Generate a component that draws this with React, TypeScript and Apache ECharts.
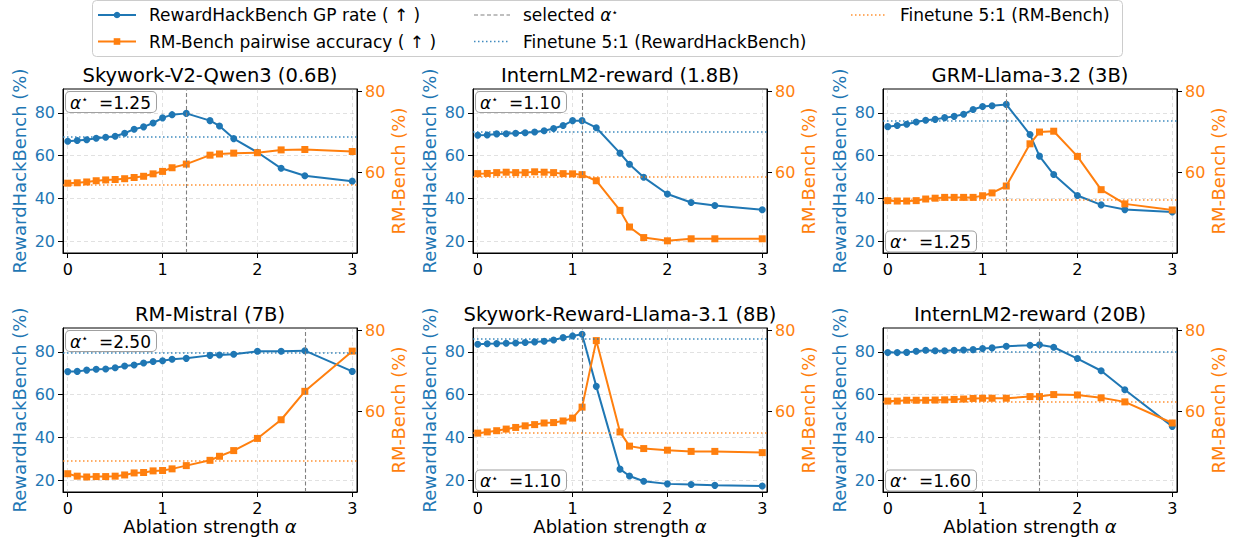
import React, { useEffect, useRef } from "react";
import * as echarts from "echarts";

// ---------------- data ----------------
const ALPHAS = [0, 0.1, 0.2, 0.3, 0.4, 0.5, 0.6, 0.7, 0.8, 0.9, 1.0, 1.1, 1.25, 1.5, 1.6, 1.75, 2.0, 2.25, 2.5, 3.0];

const MODELS = [
  "Skywork-V2-Qwen3 (0.6B)",
  "InternLM2-reward (1.8B)",
  "GRM-Llama-3.2 (3B)",
  "RM-Mistral (7B)",
  "Skywork-Reward-Llama-3.1 (8B)",
  "InternLM2-reward (20B)",
];

const RHB_QWEN06 = [66.8, 67.1, 67.5, 68.2, 68.6, 69.1, 70.5, 72.4, 73.5, 75.3, 77.7, 79.2, 79.8, 76.4, 73.9, 68.0, 61.6, 54.1, 50.6, 48.1];
const RMB_QWEN06 = [57.4, 57.5, 57.7, 58.0, 58.2, 58.3, 58.5, 58.8, 59.1, 59.7, 60.3, 61.2, 62.1, 64.3, 64.6, 64.8, 64.9, 65.6, 65.7, 65.2];

const RHB_INTERN18 = [69.6, 69.7, 70.2, 70.3, 70.5, 70.7, 71.1, 71.7, 72.7, 74.1, 76.4, 76.4, 73.1, 61.2, 56.0, 49.9, 42.1, 38.1, 36.7, 34.7];
const RMB_INTERN18 = [59.75, 59.8, 60.0, 60.1, 60.0, 60.0, 60.2, 60.1, 60.0, 59.75, 59.7, 59.5, 58.0, 50.7, 46.6, 44.0, 43.2, 43.7, 43.7, 43.7];

const RHB_GRM3 = [73.6, 74.1, 74.7, 75.8, 76.6, 77.0, 77.8, 78.4, 79.4, 81.6, 83.0, 83.4, 84.0, 69.9, 59.8, 51.2, 41.4, 37.0, 34.8, 33.7];
const RMB_GRM3 = [53.1, 53.0, 53.0, 53.1, 53.5, 53.7, 53.9, 53.9, 53.9, 53.9, 54.3, 55.0, 56.7, 67.1, 70.0, 70.2, 64.0, 55.8, 52.3, 50.8];

const RHB_MISTRAL7 = [70.8, 70.9, 71.5, 71.9, 72.0, 72.6, 73.4, 73.9, 74.8, 75.5, 75.9, 76.6, 77.0, 78.4, 78.6, 78.9, 80.3, 80.3, 80.6, 70.9];
const RMB_MISTRAL7 = [44.7, 44.1, 43.9, 44.0, 44.0, 44.1, 44.4, 44.9, 45.0, 45.4, 45.5, 45.9, 46.7, 48.0, 49.0, 50.4, 53.4, 58.0, 65.0, 74.9];

const RHB_SKYLLAMA8 = [83.6, 83.8, 83.9, 84.1, 84.2, 84.4, 84.7, 85.0, 85.6, 86.7, 87.5, 88.3, 63.9, 25.2, 22.0, 19.5, 18.3, 18.0, 17.6, 17.3];
const RMB_SKYLLAMA8 = [54.7, 55.0, 55.3, 55.7, 56.1, 56.5, 56.8, 57.2, 57.3, 57.7, 58.4, 61.1, 77.5, 55.0, 51.5, 50.9, 50.5, 50.2, 50.2, 49.9];

const RHB_INTERN20 = [79.7, 79.7, 79.8, 80.3, 80.8, 80.6, 80.6, 80.8, 80.9, 81.1, 81.6, 81.9, 82.7, 83.1, 83.4, 82.2, 76.9, 71.2, 62.3, 45.2];
const RMB_INTERN20 = [62.6, 62.6, 62.8, 62.8, 62.8, 62.85, 62.9, 63.0, 63.1, 63.25, 63.3, 63.3, 63.3, 63.7, 63.7, 64.2, 64.1, 63.4, 62.4, 57.2];

const RHB_ALL = [RHB_QWEN06, RHB_INTERN18, RHB_GRM3, RHB_MISTRAL7, RHB_SKYLLAMA8, RHB_INTERN20];
const RMB_ALL = [RMB_QWEN06, RMB_INTERN18, RMB_GRM3, RMB_MISTRAL7, RMB_SKYLLAMA8, RMB_INTERN20];

const SELECTED_ALPHA = [1.25, 1.1, 1.25, 2.5, 1.1, 1.6];
const SELECTED_LABEL = ["1.25", "1.10", "1.25", "2.50", "1.10", "1.60"];
const FT_RHB = [69.1, 71.1, 76.4, 79.7, 86.3, 80.3];
const FT_RMB = [57.0, 59.0, 53.2, 48.0, 54.8, 62.5];
const BOX_AT_TOP = [true, true, false, true, false, false];

const X_TICKS = [0, 1, 2, 3];
const LEFT_TICKS = [20, 40, 60, 80];
const RIGHT_TICKS = [60, 80];

// ---------------- style / layout ----------------
const BLUE = "#1f77b4";
const ORANGE = "#ff7f0e";
const FONT = '"DejaVu Sans", "Liberation Sans", sans-serif';
const GRID_LEFTS = [63, 473, 883];
const GRID_TOPS = [89, 328];
const GRID_W = 294;
const GRID_H = 164;
const TITLE_Y = [75, 314];

const gridLine = { color: "rgba(160,160,160,0.4)", type: [4, 3], width: 0.8 };

const STAR_RICH = {
  a: { fontStyle: "italic", fontSize: 17, fontFamily: FONT, fill: "#000" },
  s: { fontSize: 11, fontFamily: FONT, verticalAlign: "top", fill: "#000" },
};

function buildOption() {
  const grid: any[] = [];
  const xAxis: any[] = [];
  const yAxis: any[] = [];
  const series: any[] = [];
  const graphic: any[] = [];

  for (let i = 0; i < 6; i++) {
    const row = Math.floor(i / 3);
    const col = i % 3;
    const L = GRID_LEFTS[col];
    const T = GRID_TOPS[row];
    grid.push({
      left: L,
      top: T,
      width: GRID_W,
      height: GRID_H,
      show: true,
      borderColor: "#000",
      borderWidth: 1,
      backgroundColor: "transparent",
      containLabel: false,
      outerBoundsMode: "none",
    });
    xAxis.push({
      gridIndex: i,
      type: "value",
      min: -0.05,
      max: 3.05,
      splitNumber: 3,
      axisLine: { show: true, onZero: false, lineStyle: { color: "#000", width: 1 } },
      axisTick: { show: true, length: 5, customValues: X_TICKS, lineStyle: { color: "#000" } },
      axisLabel: { customValues: X_TICKS, color: "#000", fontSize: 16, margin: 8, fontFamily: FONT },
      splitLine: { show: true, lineStyle: gridLine },
      name: row === 1 ? "Ablation strength {i|α}" : "",
      nameLocation: "middle",
      nameGap: 25,
      nameTextStyle: {
        fontSize: 18,
        color: "#000",
        fontFamily: FONT,
        rich: { i: { fontStyle: "italic", fontSize: 18, fontFamily: FONT, color: "#000" } },
      },
    });
    yAxis.push({
      gridIndex: i,
      type: "value",
      position: "left",
      min: 14.5,
      max: 91.2,
      splitNumber: 4,
      axisLine: { show: true, onZero: false, lineStyle: { color: "#000", width: 1 } },
      axisTick: { show: true, length: 5, customValues: LEFT_TICKS, lineStyle: { color: "#000" } },
      axisLabel: { customValues: LEFT_TICKS, color: BLUE, fontSize: 16, margin: 8, fontFamily: FONT },
      splitLine: { show: true, lineStyle: gridLine },
      name: "RewardHackBench (%)",
      nameLocation: "middle",
      nameRotate: 90,
      nameGap: 35,
      nameTextStyle: { color: BLUE, fontSize: 18, fontFamily: FONT },
    });
    yAxis.push({
      gridIndex: i,
      type: "value",
      position: "right",
      min: 40.2,
      max: 80.6,
      splitNumber: 2,
      axisLine: { show: true, onZero: false, lineStyle: { color: "#000", width: 1 } },
      axisTick: { show: true, length: 5, customValues: RIGHT_TICKS, lineStyle: { color: "#000" } },
      axisLabel: { customValues: RIGHT_TICKS, color: ORANGE, fontSize: 16, margin: 8, fontFamily: FONT },
      splitLine: { show: false },
      name: "RM-Bench (%)",
      nameLocation: "middle",
      nameRotate: 90,
      nameGap: 31,
      nameTextStyle: { color: ORANGE, fontSize: 18, fontFamily: FONT },
    });

    series.push({
      type: "line",
      xAxisIndex: i,
      yAxisIndex: 2 * i,
      data: ALPHAS.map((a, k) => [a, RHB_ALL[i][k]]),
      symbol: "circle",
      symbolSize: 7,
      showAllSymbol: true,
      lineStyle: { color: BLUE, width: 2 },
      itemStyle: { color: BLUE },
      z: 3,
      markLine: {
        silent: true,
        symbol: "none",
        label: { show: false },
        data: [
          { yAxis: FT_RHB[i], lineStyle: { color: BLUE, type: [1.5, 2.5], width: 1.5, opacity: 0.85 } },
          { xAxis: SELECTED_ALPHA[i], lineStyle: { color: "#808080", type: [4, 2.5], width: 1.1 } },
        ],
      },
    });
    series.push({
      type: "line",
      xAxisIndex: i,
      yAxisIndex: 2 * i + 1,
      data: ALPHAS.map((a, k) => [a, RMB_ALL[i][k]]),
      symbol: "rect",
      symbolSize: 7,
      showAllSymbol: true,
      lineStyle: { color: ORANGE, width: 2 },
      itemStyle: { color: ORANGE },
      z: 4,
      markLine: {
        silent: true,
        symbol: "none",
        label: { show: false },
        data: [{ yAxis: FT_RMB[i], lineStyle: { color: ORANGE, type: [1.5, 2.5], width: 1.5, opacity: 0.85 } }],
      },
    });

    // panel title
    graphic.push({
      type: "text",
      x: L + GRID_W / 2,
      y: TITLE_Y[row],
      z: 10,
      style: {
        text: MODELS[i],
        font: `19.5px ${FONT}`,
        fill: "#000",
        align: "center",
        verticalAlign: "middle",
      },
    });

    // alpha* annotation box
    const atTop = BOX_AT_TOP[i];
    graphic.push({
      type: "text",
      x: L + 3,
      y: atTop ? T + 3 : T + GRID_H - 1.5,
      z: 20,
      style: {
        text: `{a|α}{s|⋆}  =${SELECTED_LABEL[i]}`,
        font: `17px ${FONT}`,
        fill: "#000",
        align: "left",
        verticalAlign: atTop ? "top" : "bottom",
        backgroundColor: "#fff",
        borderColor: "#a0a0a0",
        borderWidth: 1,
        borderRadius: 4,
        padding: [2, 5, 1, 4],
        rich: STAR_RICH,
      },
    });
  }

  // legend (drawn)
  const R1 = 15;
  const R2 = 41.5;
  const lg: any[] = [
    {
      type: "rect",
      shape: { x: 92.5, y: 0.5, width: 1030, height: 56, r: 4 },
      style: { fill: "#fff", stroke: "#cccccc", lineWidth: 1 },
    },
    { type: "line", shape: { x1: 98, y1: R1, x2: 136, y2: R1 }, style: { stroke: BLUE, lineWidth: 2 } },
    { type: "circle", shape: { cx: 117, cy: R1, r: 3.3 }, style: { fill: BLUE } },
    {
      type: "text",
      x: 149,
      y: R1,
      style: { text: "RewardHackBench GP rate ( ↑ )", font: `17px ${FONT}`, fill: "#000", verticalAlign: "middle" },
    },
    { type: "line", shape: { x1: 98, y1: R2, x2: 136, y2: R2 }, style: { stroke: ORANGE, lineWidth: 2 } },
    { type: "rect", shape: { x: 113.7, y: R2 - 3.3, width: 6.6, height: 6.6 }, style: { fill: ORANGE } },
    {
      type: "text",
      x: 149,
      y: R2,
      style: { text: "RM-Bench pairwise accuracy ( ↑ )", font: `17px ${FONT}`, fill: "#000", verticalAlign: "middle" },
    },
    {
      type: "line",
      shape: { x1: 474, y1: R1, x2: 510, y2: R1 },
      style: { stroke: "#808080", lineWidth: 1.1, lineDash: [4, 2.5] },
    },
    {
      type: "text",
      x: 523,
      y: R1,
      style: {
        text: "selected {a|α}{s|⋆}",
        font: `17px ${FONT}`,
        fill: "#000",
        verticalAlign: "middle",
        rich: STAR_RICH,
      },
    },
    {
      type: "line",
      shape: { x1: 474, y1: R2, x2: 510, y2: R2 },
      style: { stroke: BLUE, lineWidth: 1.5, lineDash: [1.5, 2.5], opacity: 0.85 },
    },
    {
      type: "text",
      x: 523,
      y: R2,
      style: { text: "Finetune 5:1 (RewardHackBench)", font: `17px ${FONT}`, fill: "#000", verticalAlign: "middle" },
    },
    {
      type: "line",
      shape: { x1: 851, y1: R1, x2: 887, y2: R1 },
      style: { stroke: ORANGE, lineWidth: 1.5, lineDash: [1.5, 2.5], opacity: 0.85 },
    },
    {
      type: "text",
      x: 900,
      y: R1,
      style: { text: "Finetune 5:1 (RM-Bench)", font: `17px ${FONT}`, fill: "#000", verticalAlign: "middle" },
    },
  ];
  graphic.push({ type: "group", z: 30, children: lg });

  return {
    animation: false,
    backgroundColor: "#fff",
    textStyle: { fontFamily: FONT },
    grid,
    xAxis,
    yAxis,
    series,
    graphic,
  };
}

export default function App() {
  const ref = useRef<HTMLDivElement>(null);
  useEffect(() => {
    const chart = echarts.init(ref.current!, null, { renderer: "svg" });
    chart.setOption(buildOption() as any);
    return () => chart.dispose();
  }, []);
  return (
    <div
      ref={ref}
      style={{ position: "absolute", left: 0, top: 0, width: 1233, height: 542, background: "#fff" }}
    />
  );
}
